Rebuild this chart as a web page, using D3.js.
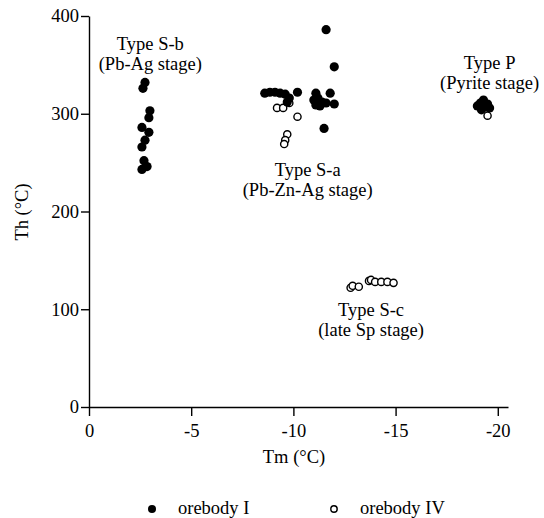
<!DOCTYPE html>
<html>
<head>
<meta charset="utf-8">
<script src="https://cdn.jsdelivr.net/npm/d3@7"></script>
<style>
  body { margin: 0; background: #fff; }
  svg text { font-family: "Liberation Serif", "Times New Roman", serif; }
</style>
</head>
<body>
<svg id="chart" width="544" height="518"></svg>
<script>
// Tm (°C), Th (°C)
var orebodyI = [
    // Type S-b
    [-2.74,332],[-2.64,326],[-2.98,303],[-2.93,296],[-2.59,286],[-2.93,281],
    [-2.74,273],[-2.59,266],[-2.69,252],[-2.84,246],[-2.59,243],
    // Type S-a
    [-8.6,321],[-8.85,322],[-9.1,322],[-9.35,321],[-9.6,320],[-9.8,316],[-9.7,312],
    [-10.2,322],[-11.1,321],[-11.8,321],[-11.0,314],[-11.1,309],[-11.4,312],
    [-11.6,311],[-12.0,310],[-11.3,308],[-11.2,316],[-11.6,386],[-12.0,348],[-11.5,285],
    // Type P
    [-19.0,308],[-19.3,314],[-19.5,310],[-19.2,304],[-19.6,306],[-19.4,307],[-19.15,311]
];
var orebodyIV = [
    // Type S-a
    [-9.2,306],[-9.5,306],[-9.8,311],[-10.2,297],[-9.7,279],[-9.6,273],[-9.55,269],
    // Type S-c
    [-12.8,122],[-12.9,124],[-13.2,123],[-13.7,129],[-13.8,130],[-14.0,128],
    [-14.3,128],[-14.6,128],[-14.9,127],
    // Type P
    [-19.5,298]
];
var xTicks = [0, -5, -10, -15, -20];
var yTicks = [0, 100, 200, 300, 400];
var typeLabels = [
    ["Type S-b", "(Pb-Ag stage)", -3.0, 365],
    ["Type S-a", "(Pb-Zn-Ag stage)", -10.7, 236],
    ["Type P", "(Pyrite stage)", -19.6, 346],
    ["Type S-c", "(late Sp stage)", -13.8, 93]
];
var legendItems = ["orebody I", "orebody IV"];

var svg = d3.select("#chart");
var ink = "#000";

var x = d3.scaleLinear().domain([0, -20.5]).range([89, 508]);
var y = d3.scaleLinear().domain([0, 400]).range([407, 16]);

svg.append("g")
    .attr("transform", "translate(0," + y(0) + ")")
    .call(d3.axisBottom(x).tickValues(xTicks).tickSize(9).tickPadding(8).tickSizeOuter(0)
        .tickFormat(function(d) { return d == 0 ? "0" : "-" + Math.abs(d); }));

svg.append("g")
    .attr("transform", "translate(" + x(0) + ",0)")
    .call(d3.axisLeft(y).tickValues(yTicks).tickSize(8).tickPadding(2).tickSizeOuter(0));

svg.selectAll(".domain, .tick line").attr("stroke", ink).attr("stroke-width", 1.4);
svg.selectAll(".tick text").style("font-size", "18.5px").attr("fill", ink);

svg.append("text")
    .attr("x", 294).attr("y", 463)
    .attr("text-anchor", "middle")
    .attr("fill", ink)
    .style("font-size", "18.5px")
    .text("Tm (°C)");

svg.append("text")
    .attr("transform", "translate(28,212) rotate(-90)")
    .attr("text-anchor", "middle")
    .attr("fill", ink)
    .style("font-size", "18.5px")
    .text("Th (°C)");

// points
svg.append("g").selectAll("circle")
    .data(orebodyIV)
    .enter().append("circle")
    .attr("cx", function(d) { return x(d[0]); })
    .attr("cy", function(d) { return y(d[1]); })
    .attr("r", 3.6)
    .attr("fill", "#fff")
    .attr("stroke", ink)
    .attr("stroke-width", 1.4);

svg.append("g").selectAll("circle")
    .data(orebodyI)
    .enter().append("circle")
    .attr("cx", function(d) { return x(d[0]); })
    .attr("cy", function(d) { return y(d[1]); })
    .attr("r", 4.6)
    .attr("fill", ink);

// group labels
var lbl = svg.append("g").selectAll("text")
    .data(typeLabels)
    .enter().append("text")
    .attr("text-anchor", "middle")
    .attr("fill", ink)
    .style("font-size", "18.5px")
    .attr("transform", function(d) { return "translate(" + x(d[2]) + "," + y(d[3]) + ")"; });
lbl.append("tspan").attr("x", 0).attr("y", 0).text(function(d) { return d[0]; });
lbl.append("tspan").attr("x", 0).attr("y", 20).text(function(d) { return d[1]; });

// legend
var legend = svg.append("g").attr("transform", "translate(0,509)");
legend.append("circle").attr("cx", 152).attr("cy", 0).attr("r", 4).attr("fill", ink);
legend.append("text").attr("x", 178).attr("y", 5).attr("fill", ink).style("font-size", "18.5px").text(legendItems[0]);
legend.append("circle").attr("cx", 334).attr("cy", 0).attr("r", 3.2)
    .attr("fill", "#fff").attr("stroke", ink).attr("stroke-width", 1.4);
legend.append("text").attr("x", 360).attr("y", 5).attr("fill", ink).style("font-size", "18.5px").text(legendItems[1]);
</script>
</body>
</html>
